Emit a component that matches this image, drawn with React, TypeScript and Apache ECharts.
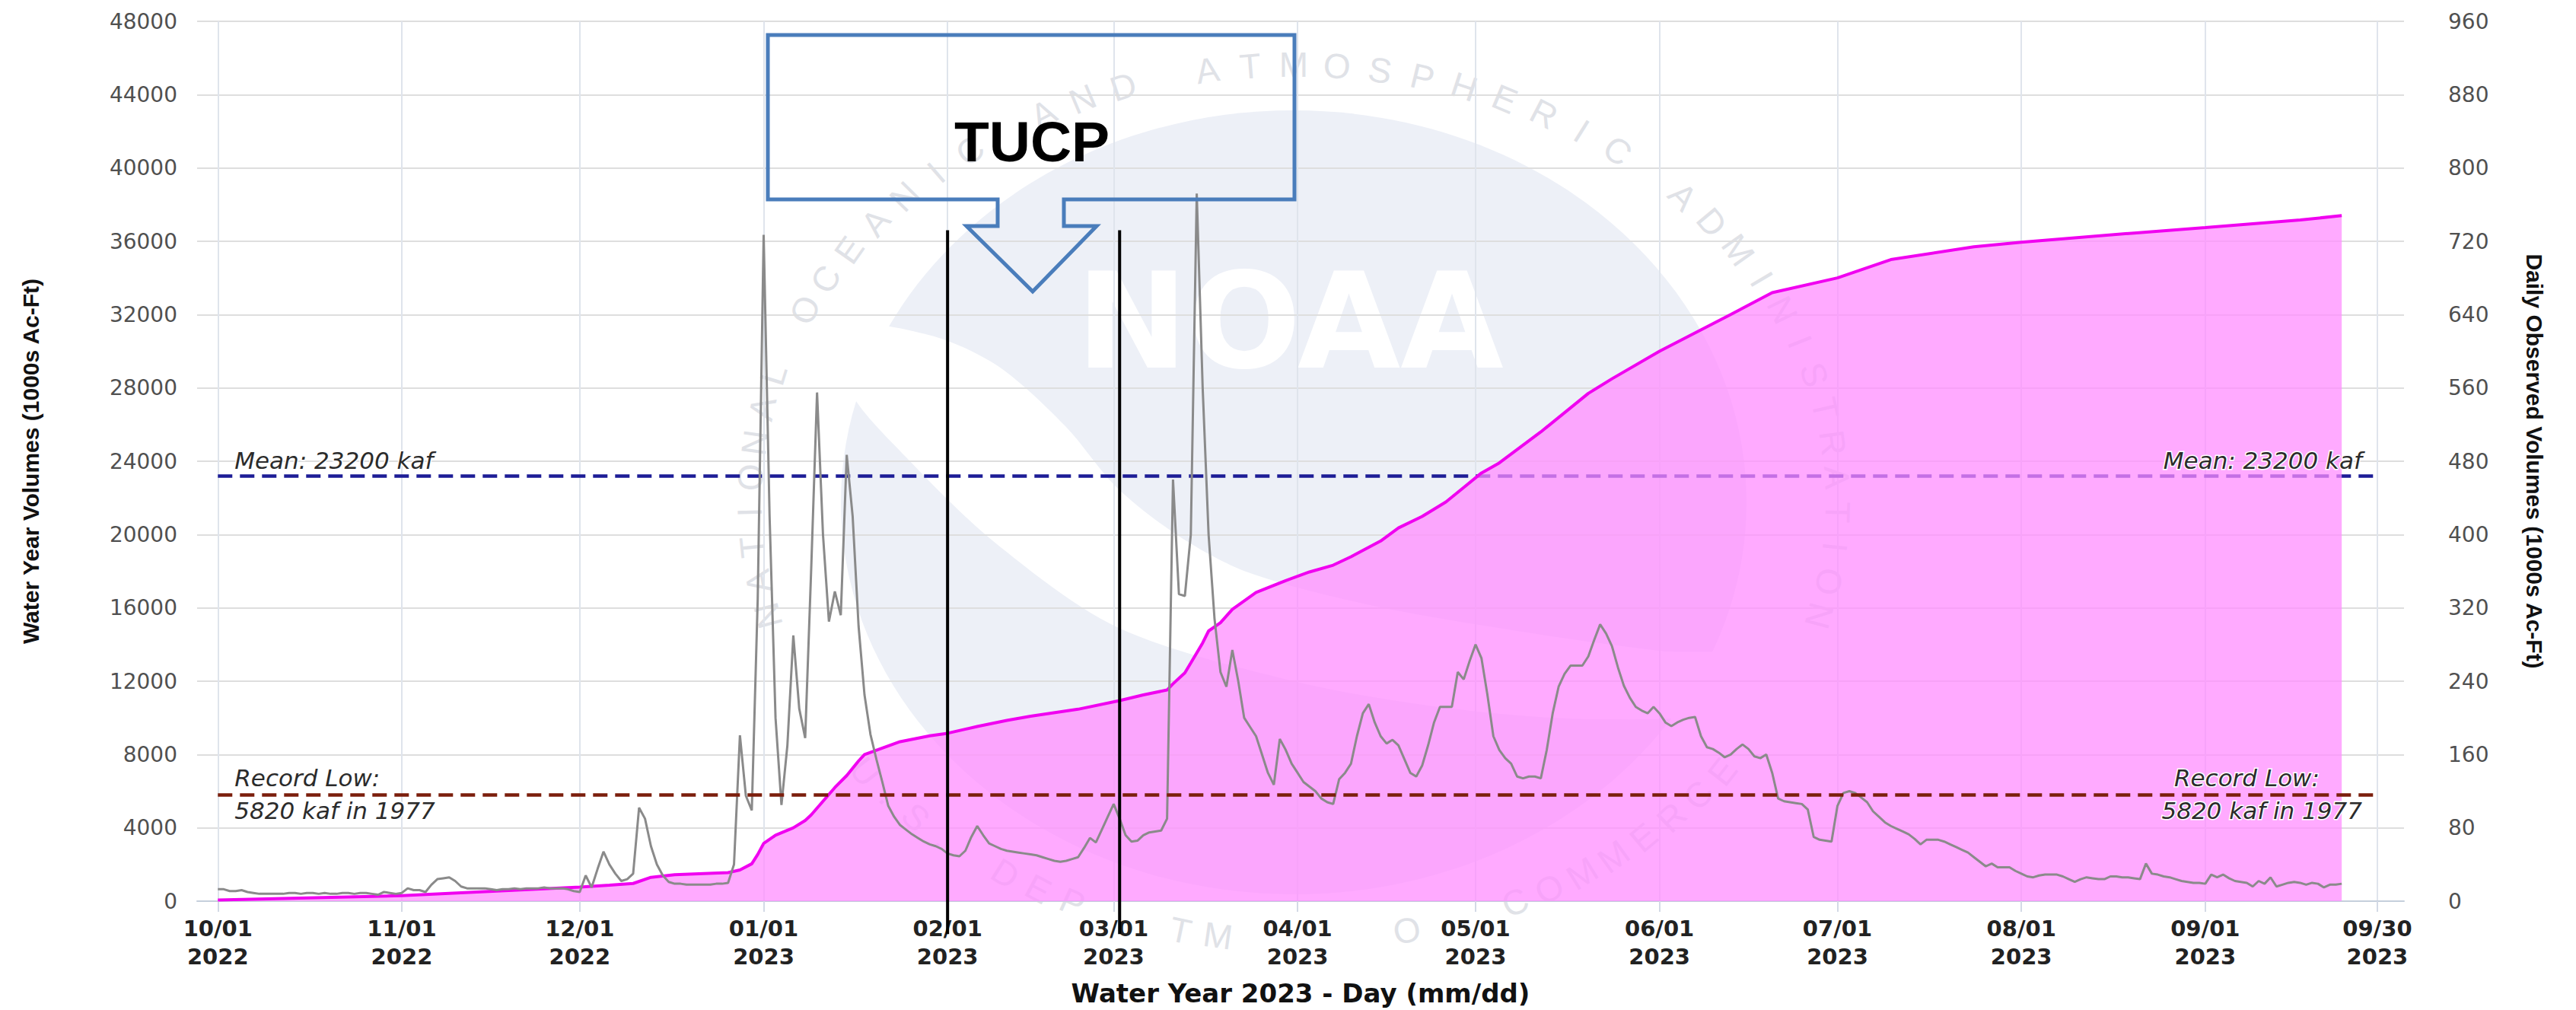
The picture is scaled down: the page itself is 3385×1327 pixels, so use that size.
import React, { useEffect, useRef } from 'react';
import * as echarts from 'echarts';

// ---------- data ----------
const TICK_DAYS = [0, 31, 61, 92, 123, 151, 182, 212, 243, 273, 304, 335, 364];
const TICK_LABELS = [
  '10/01\n2022', '11/01\n2022', '12/01\n2022', '01/01\n2023', '02/01\n2023', '03/01\n2023',
  '04/01\n2023', '05/01\n2023', '06/01\n2023', '07/01\n2023', '08/01\n2023', '09/01\n2023', '09/30\n2023',
];

// Daily observed volumes (1000s Ac-Ft), index = day of water year (0 = 10/01/2022)
const DAILY_OBSERVED = [
  13, 13, 11, 11, 12, 10, 9, 8, 8, 8,
  8, 8, 9, 9, 8, 9, 9, 8, 9, 8,
  8, 9, 9, 8, 9, 9, 8, 7, 10, 9,
  8, 9, 14, 12, 12, 10, 18, 24, 25, 26,
  22, 16, 14, 14, 14, 14, 13, 12, 13, 13,
  14, 13, 14, 14, 14, 15, 14, 14, 14, 13,
  11, 10, 28, 15, 35, 54, 40, 30, 22, 24,
  30, 102, 90, 60, 40, 28, 21, 19, 19, 18,
  18, 18, 18, 18, 19, 19, 20, 40, 181, 115,
  99, 330, 727, 420, 200, 105, 170, 290, 210, 178,
  360, 555, 400, 305, 338, 312, 487, 420, 300, 225,
  182, 155, 130, 104, 92, 83, 78, 73, 69, 65,
  62, 60, 57, 52, 50, 49, 55, 70, 82, 72,
  63, 60, 57, 55, 54, 53, 52, 51, 50, 48,
  46, 44, 43, 44, 46, 48, 58, 69, 64, 78,
  92, 106, 90, 72, 65, 66, 72, 75, 76, 77,
  90, 460, 335, 333, 400, 772, 560, 400, 308, 250,
  234, 274, 240, 200, 190, 180, 160, 140, 127, 177,
  165, 150, 140, 130, 125, 120, 112, 108, 106, 133,
  140, 150, 180, 205, 215, 195, 180, 172, 176, 170,
  155, 140, 136, 148, 170, 195, 212, 212, 212, 250,
  242, 262, 280, 265, 225, 180, 165, 156, 150, 136,
  134, 136, 136, 134, 165, 205, 234, 248, 257, 257,
  257, 267, 285, 302, 292, 278, 255, 235, 222, 212,
  208, 205, 212, 205, 195, 191, 195, 198, 200, 201,
  180, 168, 166, 162, 157, 160, 166, 171, 166, 158,
  156, 160, 140, 112, 109, 108, 107, 106, 100, 70,
  67, 66, 65, 104, 118, 120, 118, 113, 108, 98,
  92, 86, 82, 79, 76, 73, 68, 62, 67, 67,
  67, 65, 62, 59, 56, 53, 48, 43, 38, 41,
  37, 37, 37, 33, 30, 27, 26, 28, 29, 29,
  29, 27, 24, 21, 24, 26, 25, 24, 24, 27,
  27, 26, 26, 25, 24, 41, 30, 29, 27, 26,
  24, 22, 21, 20, 20, 19, 29, 26, 29, 25,
  22, 21, 20, 16, 22, 19, 26, 16, 18, 20,
  21, 20, 18, 20, 19, 15, 18, 18, 19,
];

// Water year cumulative volume (1000s Ac-Ft), read at these days
const CUM_DAYS = [
  0, 31, 61, 66, 70, 73, 77, 86, 88, 90, 91, 92, 94, 97, 99, 100, 102, 104, 106, 108,
  109, 112, 115, 120, 123, 128, 133, 137, 145, 152, 156, 160, 161, 163, 164, 166, 167, 169, 171, 175,
  180, 184, 188, 191, 196, 199, 203, 207, 210, 213, 216, 223, 231, 235, 243, 255, 262, 273, 282, 296,
  304, 323, 335, 351, 358,
];
const CUM_VALUES = [
  60, 300, 770, 870, 965, 1300, 1440, 1560, 1700, 2040, 2550, 3150, 3600, 4000, 4400, 4700, 5450, 6200, 6850, 7650,
  8000, 8350, 8700, 9020, 9160, 9530, 9860, 10090, 10470, 10940, 11250, 11520, 11860, 12460, 13000, 14090, 14740, 15190, 15920, 16840,
  17490, 17960, 18330, 18790, 19650, 20360, 20990, 21780, 22570, 23360, 23910, 25600, 27700, 28500, 30000, 32000, 33200, 34000, 35000, 35700,
  35950, 36450, 36750, 37160, 37400,
];

const MEAN_KAF = 23200;
const RECORD_LOW_KAF = 5820;
const RECORD_LOW_YEAR = 1977;
const TUCP_LINE_DAYS = [123, 152];
const TUCP_LINE_RANGE = [-1800, 36600];

const WATERMARK_TOP_TEXT = 'NATIONAL OCEANIC AND ATMOSPHERIC ADMINISTRATION';
const WATERMARK_BOTTOM_TEXT = 'U.S. DEPARTMENT OF COMMERCE';

// ---------- helpers ----------
// approximate pixel x of each tick label (used only to keep watermark letters off the tick labels)
const PLOT_X0 = 286.3;
const PX_PER_DAY = 2900 / 372;

function ringText(text: string, fromDeg: number, toDeg: number, cx: number, cy: number, rx: number, ry: number, bottom: boolean) {
  const n = text.length;
  const els: any[] = [];
  for (let i = 0; i < n; i++) {
    const ch = text[i];
    if (ch === ' ') continue;
    const deg = fromDeg + ((toDeg - fromDeg) * i) / (n - 1);
    const t = (deg * Math.PI) / 180;
    const x = cx + rx * Math.cos(t);
    const y = cy - ry * Math.sin(t);
    if (y > 1192) {
      const nearLabel = TICK_DAYS.some((d) => Math.abs(PLOT_X0 + d * PX_PER_DAY - x) < 72);
      if (nearLabel) continue;
    }
    els.push({
      type: 'text',
      x,
      y,
      rotation: bottom ? t - 1.5 * Math.PI : t - Math.PI / 2,
      z: -9,
      silent: true,
      style: {
        text: ch,
        fill: '#e0e2e7',
        font: '46px "Liberation Sans"',
        textAlign: 'center',
        textVerticalAlign: 'middle',
        align: 'center',
        verticalAlign: 'middle',
      },
    });
  }
  return els;
}

const markLabel = {
  fontFamily: 'DejaVu Sans',
  fontStyle: 'italic',
  fontSize: 31,
  color: '#2b2b2b',
  textBorderColor: '#ffffff',
  textBorderWidth: 3,
};

function buildOption() {
  const first = TICK_DAYS[0];
  const last = TICK_DAYS[TICK_DAYS.length - 1];
  const dailyData = DAILY_OBSERVED.map((v, i) => [i, v]);
  const cumData = CUM_DAYS.map((d, i) => [d, CUM_VALUES[i]]);

  const meanStyle = { color: '#1d1d96', width: 4.5, type: [19, 10] };
  const lowStyle = { color: '#7b1e0c', width: 4.5, type: [19, 10] };
  const hidden = { color: 'rgba(0,0,0,0)', width: 1 };

  const labelPair = (value: number, position: string, distance: number[], text: string) => [
    { coord: [first, value], lineStyle: hidden, label: { position, distance, formatter: text } },
    { coord: [last, value] },
  ];

  const watermark: any[] = [
    {
      type: 'ellipse', z: -10, silent: true,
      shape: { cx: 1700, cy: 660, rx: 595, ry: 515 },
      style: { fill: '#edf0f7' },
    },
    {
      type: 'polygon', z: -10, silent: true,
      shape: {
        smooth: 0.3,
        points: [
          [1110, 430], [1220, 440], [1310, 480], [1400, 560], [1467, 640], [1550, 705], [1640, 752],
          [1800, 795], [2000, 830], [2180, 855], [2290, 865],
          [2280, 930], [2100, 945], [1900, 930], [1700, 895], [1470, 825], [1310, 715], [1190, 600], [1115, 510],
        ],
      },
      style: { fill: '#ffffff' },
    },
    {
      type: 'text', z: -9, silent: true, x: 1695, y: 422,
      style: {
        text: 'NOAA', fill: '#ffffff', font: 'bold 175px "DejaVu Sans"',
        textAlign: 'center', textVerticalAlign: 'middle', align: 'center', verticalAlign: 'middle',
      },
    },
    ...ringText(WATERMARK_TOP_TEXT, 195, -15, 1700, 660, 715, 575, false),
    ...ringText(WATERMARK_BOTTOM_TEXT, 218, 322, 1700, 660, 715, 575, true),
  ];

  const callout = {
    type: 'polygon', z: 20, silent: true,
    shape: {
      points: [
        [1009, 46], [1701, 46], [1701, 262], [1398, 262], [1398, 297], [1441, 297], [1357, 383],
        [1270, 297], [1311, 297], [1311, 262], [1009, 262],
      ],
    },
    style: { fill: 'none', stroke: '#4a7dbb', lineWidth: 5, lineJoin: 'miter' },
  };
  const calloutText = {
    type: 'text', z: 21, silent: true, x: 1356, y: 186,
    style: {
      text: 'TUCP', fill: '#000000', font: 'bold 75px "Liberation Sans"',
      textAlign: 'center', textVerticalAlign: 'middle', align: 'center', verticalAlign: 'middle',
    },
  };

  const meanText = `Mean: ${MEAN_KAF} kaf`;
  const lowTop = 'Record Low:';
  const lowBottom = `${RECORD_LOW_KAF} kaf in ${RECORD_LOW_YEAR}`;

  return {
    animation: false,
    backgroundColor: '#ffffff',
    grid: { left: 259, right: 226, top: 28, bottom: 141, containLabel: false },
    xAxis: {
      type: 'value',
      min: -3.5,
      max: 368.5,
      axisLine: { show: true, lineStyle: { color: '#c5cfdc', width: 2 } },
      axisTick: { show: true, customValues: TICK_DAYS, length: 14, lineStyle: { color: '#d3dae6', width: 2 } },
      axisLabel: {
        customValues: TICK_DAYS,
        formatter: (v: number) => {
          const i = TICK_DAYS.indexOf(Math.round(v));
          return i >= 0 ? TICK_LABELS[i] : '';
        },
        fontFamily: 'DejaVu Sans',
        fontWeight: 'bold',
        fontSize: 29,
        color: '#222222',
        lineHeight: 37,
        margin: 17,
      },
      splitLine: { show: true, lineStyle: { color: '#dfe4ec', width: 2 } },
      name: 'Water Year 2023 - Day (mm/dd)',
      nameLocation: 'middle',
      nameGap: 104,
      nameTextStyle: { fontFamily: 'DejaVu Sans', fontWeight: 'bold', fontSize: 34, color: '#111111' },
    },
    yAxis: [
      {
        type: 'value',
        position: 'left',
        min: 0,
        max: 48000,
        interval: 4000,
        axisLine: { show: false },
        axisTick: { show: false },
        axisLabel: { fontFamily: 'DejaVu Sans', fontSize: 28, color: '#505050', margin: 26, formatter: (v: number) => String(v) },
        splitLine: { show: true, lineStyle: { color: '#dedede', width: 2 } },
        name: 'Water Year Volumes (1000s Ac-Ft)',
        nameLocation: 'middle',
        nameRotate: 90,
        nameGap: 204,
        nameTextStyle: { fontFamily: 'Liberation Sans', fontWeight: 'bold', fontSize: 30, color: '#111111' },
      },
      {
        type: 'value',
        position: 'right',
        min: 0,
        max: 960,
        interval: 80,
        axisLine: { show: false },
        axisTick: { show: false },
        axisLabel: { fontFamily: 'DejaVu Sans', fontSize: 28, color: '#505050', margin: 58, formatter: (v: number) => String(v) },
        splitLine: { show: false },
        name: 'Daily Observed Volumes (1000s Ac-Ft)',
        nameLocation: 'middle',
        nameRotate: -90,
        nameGap: 156,
        nameTextStyle: { fontFamily: 'Liberation Sans', fontWeight: 'bold', fontSize: 30, color: '#111111' },
      },
    ],
    series: [
      {
        name: 'mean',
        type: 'line',
        yAxisIndex: 0,
        data: [],
        silent: true,
        markLine: {
          z: 1,
          silent: true,
          symbol: 'none',
          lineStyle: meanStyle,
          label: { show: false },
          data: [[{ coord: [first, MEAN_KAF] }, { coord: [last, MEAN_KAF] }]],
        },
      },
      {
        name: 'Water Year Volume',
        type: 'line',
        yAxisIndex: 0,
        data: cumData,
        z: 2,
        symbol: 'none',
        silent: true,
        lineStyle: { color: '#f000f0', width: 4 },
        areaStyle: { color: 'rgb(255,140,255)', opacity: 0.74 },
      },
      {
        name: 'Daily Observed',
        type: 'line',
        yAxisIndex: 1,
        data: dailyData,
        z: 3,
        symbol: 'none',
        silent: true,
        lineStyle: { color: '#8a8a8a', width: 3 },
      },
      {
        name: 'record low',
        type: 'line',
        yAxisIndex: 0,
        data: [],
        silent: true,
        markLine: {
          z: 5,
          silent: true,
          symbol: 'none',
          lineStyle: lowStyle,
          label: markLabel,
          data: [
            [
              { coord: [first, RECORD_LOW_KAF], label: { position: 'insideStartTop', distance: [22, 6], formatter: lowTop } },
              { coord: [last, RECORD_LOW_KAF] },
            ],
            labelPair(RECORD_LOW_KAF, 'insideStartBottom', [22, 6], lowBottom),
            labelPair(RECORD_LOW_KAF, 'insideEndTop', [76, 6], lowTop),
            labelPair(RECORD_LOW_KAF, 'insideEndBottom', [20, 6], lowBottom),
            labelPair(MEAN_KAF, 'insideStartTop', [22, 5], meanText),
            labelPair(MEAN_KAF, 'insideEndTop', [20, 5], meanText),
          ],
        },
      },
      ...TUCP_LINE_DAYS.map((d) => ({
        name: 'tucp' + d,
        type: 'line',
        yAxisIndex: 0,
        data: TUCP_LINE_RANGE.map((v) => [d, v]),
        clip: false,
        z: 6,
        symbol: 'none',
        silent: true,
        lineStyle: { color: '#000000', width: 4 },
      })),
    ],
    graphic: { elements: [...watermark, callout, calloutText] },
  };
}

export default function App() {
  const ref = useRef<HTMLDivElement>(null);
  useEffect(() => {
    document.body.style.margin = '0';
    const chart = echarts.init(ref.current as HTMLDivElement, null, { renderer: 'svg' });
    chart.setOption(buildOption() as any);
    return () => chart.dispose();
  }, []);
  return <div ref={ref} style={{ width: 3385, height: 1327 }} />;
}
